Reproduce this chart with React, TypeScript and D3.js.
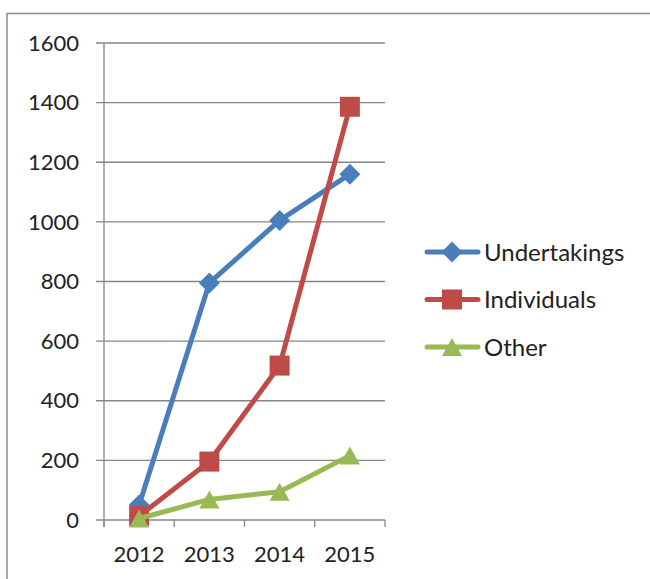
import React from "react";
import * as d3 from "d3";

const categories = ["2012", "2013", "2014", "2015"];
const undertakings = [50, 795, 1005, 1160];
const individuals = [13, 196, 518, 1386];
const other = [5, 69, 95, 216];
const yTicks = [0, 200, 400, 600, 800, 1000, 1200, 1400, 1600];

const seriesList = [
  { name: "Undertakings", values: undertakings, color: "#4a7ebb", marker: "diamond" },
  { name: "Individuals", values: individuals, color: "#be4b48", marker: "square" },
  { name: "Other", values: other, color: "#98b954", marker: "triangle" },
];

const W = 650, H = 579;
const FONT = "Lato, 'Open Sans', sans-serif";
const AX = "#868686";

function Marker({ type, x, y, color }: { type: string; x: number; y: number; color: string }) {
  if (type === "diamond") {
    const s = 10.5;
    return <path d={`M${x},${y - s}L${x + s},${y}L${x},${y + s}L${x - s},${y}Z`} fill={color} />;
  }
  if (type === "square") {
    const s = 10;
    return <rect x={x - s} y={y - s} width={2 * s} height={2 * s} fill={color} />;
  }
  const s = 10;
  return <path d={`M${x},${y - 9}L${x + s},${y + 9}L${x - s},${y + 9}Z`} fill={color} />;
}

export default function App() {
  const x = d3.scaleBand().domain(categories).range([104, 385]);
  const y = d3.scaleLinear().domain([0, 1600]).range([520, 43]);
  const cx = (i: number) => (x(categories[i]) as number) + x.bandwidth() / 2;
  const line = d3
    .line<number>()
    .x((_, i) => cx(i))
    .y((d) => y(d));
  const bounds = [104, ...categories.map((c) => (x(c) as number) + x.bandwidth())];

  return (
    <svg width={W} height={H} style={{ position: "absolute", left: 0, top: 0, background: "#fff" }}>
      <rect x={7} y={13.5} width={W} height={H} fill="none" stroke="#8c8c8c" strokeWidth={1.5} />
      {yTicks.map((t) => (
        <g key={t}>
          <line x1={96} x2={385} y1={y(t)} y2={y(t)} stroke={AX} strokeWidth={1.3} />
          <text x={79} y={y(t)} dy="0.35em" textAnchor="end" fontFamily={FONT} fontSize={22} fill="#222">
            {t}
          </text>
        </g>
      ))}
      <line x1={104} x2={104} y1={43} y2={527} stroke={AX} strokeWidth={1.3} />
      {bounds.map((b, i) => (
        <line key={i} x1={b} x2={b} y1={520} y2={527} stroke={AX} strokeWidth={1.3} />
      ))}
      {categories.map((c, i) => (
        <text key={c} x={cx(i)} y={562} textAnchor="middle" fontFamily={FONT} fontSize={22} fill="#222">
          {c}
        </text>
      ))}
      {seriesList.map((s) => (
        <g key={s.name}>
          <path d={line(s.values) || ""} fill="none" stroke={s.color} strokeWidth={5} strokeLinejoin="round" />
          {s.values.map((v, i) => (
            <Marker key={i} type={s.marker} x={cx(i)} y={y(v)} color={s.color} />
          ))}
        </g>
      ))}
      {seriesList.map((s, i) => {
        const ly = 252 + i * 47.5;
        return (
          <g key={s.name}>
            <line x1={427} x2={478} y1={ly} y2={ly} stroke={s.color} strokeWidth={5} strokeLinecap="round" />
            <Marker type={s.marker} x={452} y={ly} color={s.color} />
            <text x={484} y={ly} dy="0.36em" fontFamily={FONT} fontSize={24} fill="#222">
              {s.name}
            </text>
          </g>
        );
      })}
    </svg>
  );
}
